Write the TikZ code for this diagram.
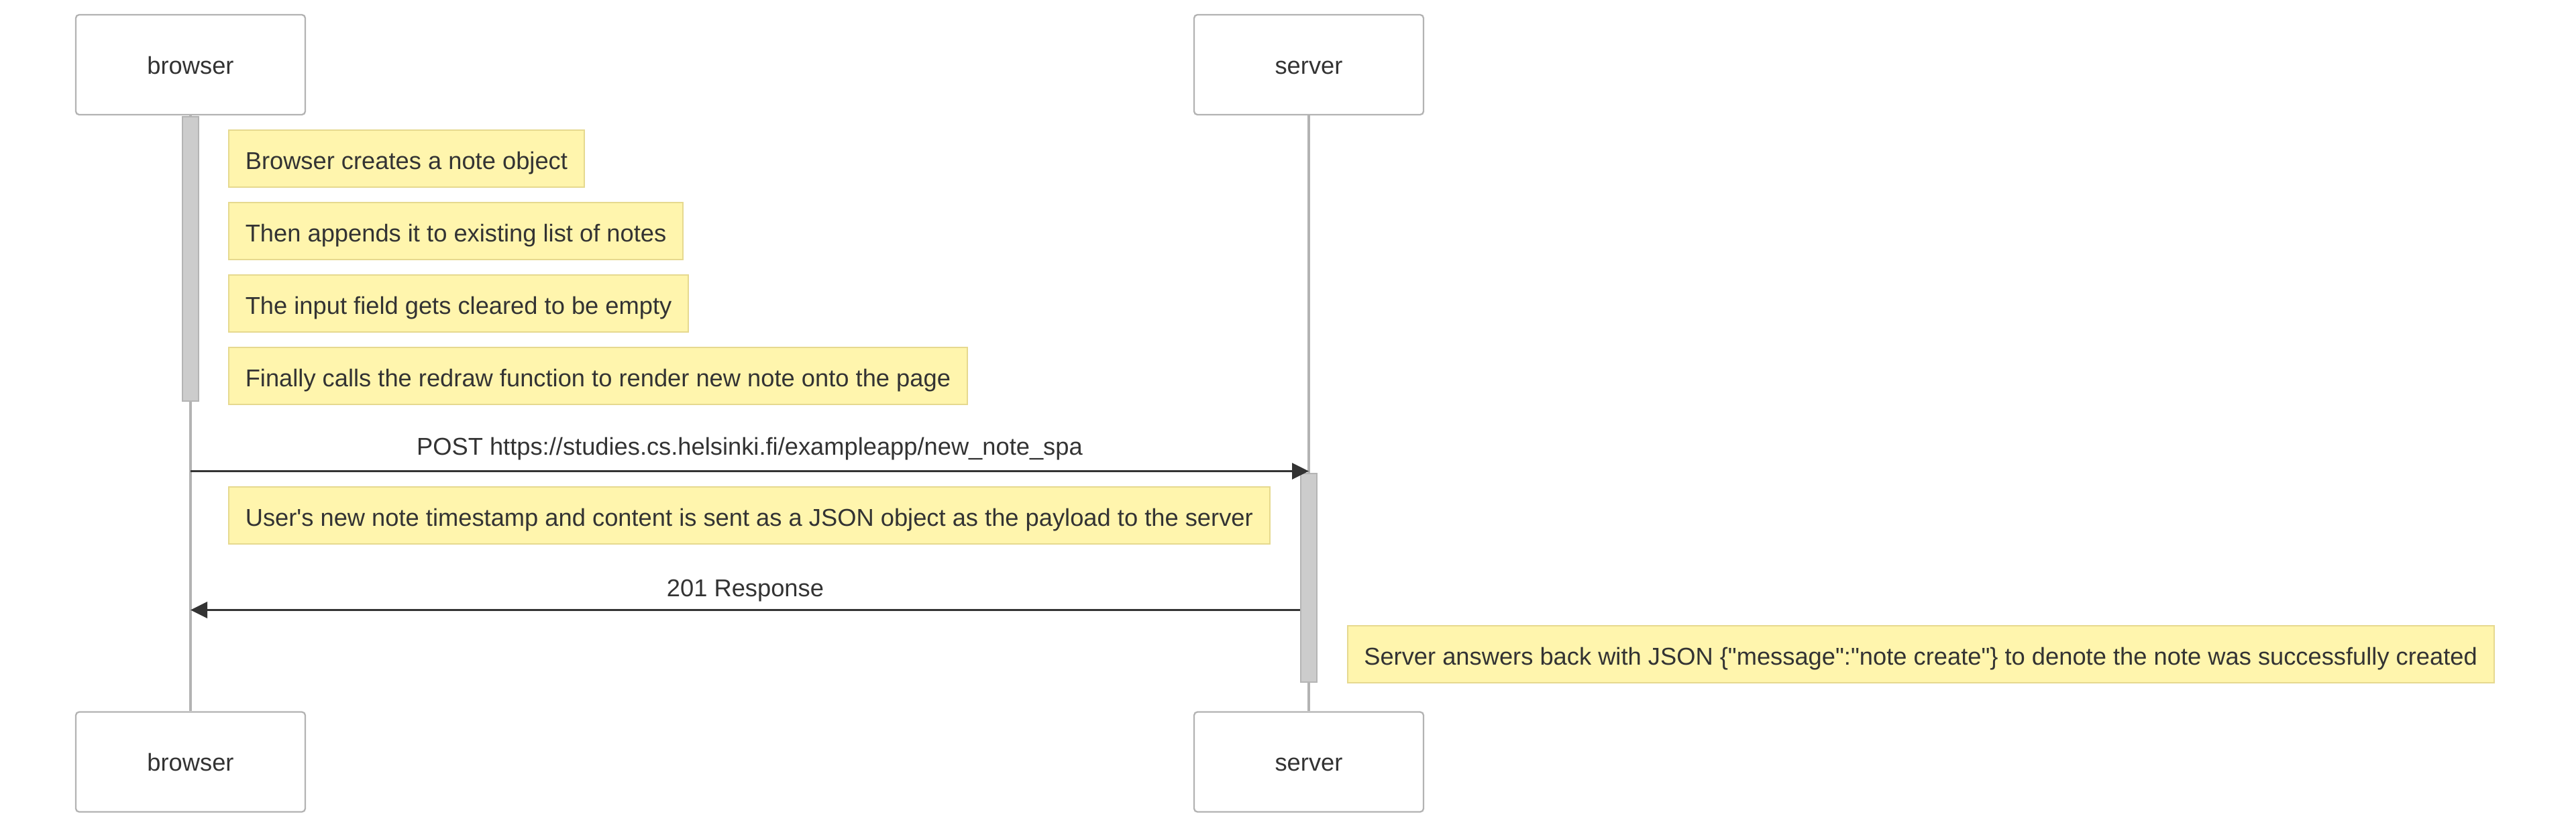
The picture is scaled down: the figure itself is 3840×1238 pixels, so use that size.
\documentclass[tikz,border=0pt]{standalone}
\usepackage{fontspec}
\setmainfont{Liberation Sans}
\usepackage{tikz}
\usetikzlibrary{arrows.meta,positioning}

\definecolor{txtgray}{HTML}{333333}
\definecolor{actorline}{HTML}{B3B3B3}
\definecolor{actfill}{HTML}{CCCCCC}
\definecolor{actline}{HTML}{B4B4B4}
\definecolor{notefill}{HTML}{FFF5AD}
\definecolor{noteline}{HTML}{E6D98F}

\begin{document}
\begin{tikzpicture}[x=0.5pt, y=-0.5pt,
	every node/.style={font=\fontsize{18.15}{22}\selectfont, text=txtgray},
	actor/.style={draw=actorline, fill=white, line width=1.15pt, rounded corners=2.5pt,
		minimum width=171pt, minimum height=74.5pt, text height=13.5pt, text depth=0pt},
	lifeline/.style={draw=actorline, line width=1.8pt},
	activ/.style={draw=actline, fill=actfill, line width=1pt, minimum width=12pt, inner sep=0pt},
	note/.style={draw=noteline, fill=notefill, line width=1pt, minimum height=42.5pt,
		inner xsep=12.4pt, text height=15.5pt, text depth=0pt, anchor=north west},
	msg/.style={draw=txtgray, line width=1.65pt, -{Triangle[length=12.5pt, width=12pt]}},
	]
	\useasboundingbox (0,0) rectangle (3840,1238);

	% Actors
	\node[actor] (browserTop) at (284,96.5) {browser};
	\node[actor] (serverTop) at (1951,96.5) {server};
	\node[actor] (browserBot) at (284,1136) {browser};
	\node[actor] (serverBot) at (1951,1136) {server};

	% Lifelines
	\draw[lifeline] (browserTop) -- (browserBot);
	\draw[lifeline] (serverTop) -- (serverBot);

	% Activations
	\node[activ, minimum height=212pt] (browserAct) at (284,386) {};
	\node[activ, minimum height=155.5pt] (serverAct) at (1951,861.5) {};

	% Notes on the browser side
	\node[note] (noteCreate) at (340,193) {Browser creates a note object};
	\node[note, below right=10.5pt and 0pt of noteCreate.south west] (noteAppend) {Then appends it to existing list of notes};
	\node[note, below right=10.5pt and 0pt of noteAppend.south west] (noteClear) {The input field gets cleared to be empty};
	\node[note, below right=10.5pt and 0pt of noteClear.south west] (noteRedraw) {Finally calls the redraw function to render new note onto the page};

	% Messages
	\coordinate (postY) at (0,702.5);
	\coordinate (respY) at (0,909.5);
	\draw[msg] (browserTop |- postY) -- node[anchor=base, yshift=12.25pt] {POST https://studies.cs.helsinki.fi/exampleapp/new\_note\_spa} (serverTop |- postY);
	\node[note] (notePayload) at (340,725) {User\textquotesingle s new note timestamp and content is sent as a JSON object as the payload to the server};
	\draw[msg] (serverAct.west |- respY) -- node[anchor=base, yshift=9.85pt] {201 Response} (browserTop |- respY);
	\node[note] (noteAnswer) at (2007.5,932) {Server answers back with JSON \{\textquotedbl message\textquotedbl:\textquotedbl note create\textquotedbl\} to denote the note was successfully created};

\end{tikzpicture}
\end{document}
